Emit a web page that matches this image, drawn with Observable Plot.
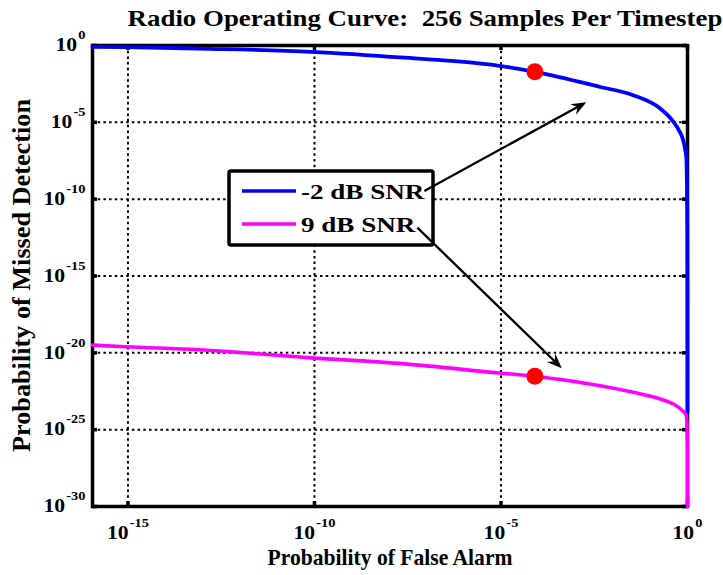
<!DOCTYPE html>
<html><head><meta charset="utf-8">
<script src="https://cdn.jsdelivr.net/npm/d3@7"></script>
<script src="https://cdn.jsdelivr.net/npm/@observablehq/plot@0.6"></script>
<style>body{margin:0;background:#fff} svg{display:block}</style>
</head><body><div id="chart"></div>
<script>
// ---- data ----
const titleText = "Radio Operating Curve:  256 Samples Per Timestep";
const xLabelText = "Probability of False Alarm";
const yLabelText = "Probability of Missed Detection";
const seriesNames = ["-2 dB SNR", "9 dB SNR"];
const seriesColors = ["#0000ff", "#ff00ff"];

const pfaLow = [1.12e-16, 8.7e-16, 7.9e-14, 8.3e-11, 2.6e-8, 8.9e-6, 8.1e-5, 4.6e-3, 3.5e-2, 0.186, 0.417, 0.60, 0.741, 0.87, 0.933, 0.99, 0.999, 0.99999];
const pmdLow = [0.82, 0.79, 0.63, 0.39, 0.16, 0.048, 0.0195, 2.0e-3, 5.8e-4, 7.9e-5, 1.1e-5, 2.8e-6, 8.9e-7, 1.6e-7, 4.4e-8, 1e-12, 1e-19, 1.3e-24];

const pfaHigh = [1.12e-16, 8.7e-16, 7.9e-14, 8.3e-11, 2.6e-8, 8.9e-6, 8.1e-5, 4.6e-3, 3.5e-2, 0.186, 0.417, 0.60, 0.741, 0.87, 0.933, 0.999, 0.99999];
const pmdHigh = [3.2e-20, 2.5e-20, 1.6e-20, 4.7e-21, 1.9e-21, 4.9e-22, 3.0e-22, 7.2e-23, 2.7e-23, 1.0e-23, 4.7e-24, 2.6e-24, 1.7e-24, 1.1e-24, 7.9e-25, 1e-26, 1e-30];

const markerX = [8.1e-5, 8.1e-5];
const markerY = [0.0195, 3.0e-22];

const arrowX1 = [9.1e-8, 5.9e-8];
const arrowY1 = [3.2e-10, 1.3e-12];
const arrowX2 = [2.0e-3, 4.4e-4];
const arrowY2 = [1.9e-4, 9.3e-22];

const xTicks = [1e-15, 1e-10, 1e-5, 1];
const yTicks = [1e-30, 1e-25, 1e-20, 1e-15, 1e-10, 1e-5, 1];
const xDomain = [1.12e-16, 1];
const yDomain = [1e-30, 1];

// ---- build tables ----
const lowData = pfaLow.map((x, i) => ({x, y: pmdLow[i], s: seriesNames[0]}));
const highData = pfaHigh.map((x, i) => ({x, y: pmdHigh[i], s: seriesNames[1]}));
const markers = markerX.map((x, i) => ({x, y: markerY[i]}));
const arrows = arrowX1.map((x1, i) => ({x1, y1: arrowY1[i], x2: arrowX2[i], y2: arrowY2[i]}));
const expFmt = d => "10|" + Math.round(Math.log10(d));

const W = 723, H = 575, ML = 92, MR = 36, MT = 45, MB = 69;
const PW = W - ML - MR, PH = H - MT - MB;
const SX = 1.2; // glyph width stretch of tick labels in the reference
const gridStyle = {stroke: "#000", strokeOpacity: 1, strokeWidth: 2, strokeDasharray: "2.5,3.2"};

const plot = Plot.plot({
  width: W, height: H,
  marginLeft: ML, marginRight: MR, marginTop: MT, marginBottom: MB,
  x: {type: "log", domain: xDomain},
  y: {type: "log", domain: yDomain},
  style: {fontFamily: "'Liberation Serif', 'Times New Roman', serif", fontWeight: "bold", color: "#000", background: "#fff", overflow: "visible"},
  marks: [
    Plot.gridX(xTicks, gridStyle),
    Plot.gridY(yTicks, gridStyle),
    Plot.frame({stroke: "#000", strokeWidth: 3.5}),
    Plot.tickX(xTicks, {x: d => d, stroke: "#000", strokeWidth: 3.5, insetTop: PH - 5}),
    Plot.tickX(xTicks, {x: d => d, stroke: "#000", strokeWidth: 3.5, insetBottom: PH - 5}),
    Plot.tickY(yTicks, {y: d => d, stroke: "#000", strokeWidth: 3.5, insetRight: PW - 5}),
    Plot.tickY(yTicks, {y: d => d, stroke: "#000", strokeWidth: 3.5, insetLeft: PW - 5}),
    Plot.axisX(xTicks, {anchor: "bottom", tickSize: 0, tickPadding: 20, tickFormat: expFmt, fontSize: 18, label: null}),
    Plot.axisY(yTicks, {anchor: "left", tickSize: 0, tickPadding: 7, tickFormat: expFmt, fontSize: 18, label: null}),
    Plot.line(lowData, {x: "x", y: "y", stroke: seriesColors[0], strokeWidth: 3.8, curve: "monotone-x"}),
    Plot.line(highData, {x: "x", y: "y", stroke: seriesColors[1], strokeWidth: 3.6, curve: "monotone-x"}),
    Plot.dot(markers, {x: "x", y: "y", r: 8.5, fill: "#ff0000", stroke: "none"})
  ]
});

document.getElementById("chart").appendChild(plot);
const svg = d3.select(plot);

// superscript tick labels
const tickLabels = svg.selectAll('g[aria-label="x-axis tick label"] text, g[aria-label="y-axis tick label"] text');
tickLabels.each(function () {
  const t = d3.select(this);
  const parts = t.text().split("|");
  t.text(parts[0]);
  t.append("tspan").attr("font-size", "12px").attr("dy", "-12").attr("dx", "1").text(parts[1]);
});
tickLabels.each(function () {
  const t = this.getAttribute("transform") || "";
  const xa = this.getAttribute("x");
  const x = xa && !isNaN(+xa) ? +xa : 0;
  if (xa && !isNaN(+xa)) this.removeAttribute("x");
  this.setAttribute("transform", `${t} translate(${x},0) scale(${SX},1)`);
});

function addText(str, x, y, size, rot, anchor, sx) {
  return svg.append("text")
    .attr("transform", `translate(${x},${y}) rotate(${rot}) scale(${sx},1)`)
    .attr("text-anchor", anchor)
    .attr("font-size", size + "px")
    .attr("font-weight", "bold")
    .attr("fill", "#000")
    .text(str);
}
addText(titleText, 425, 26, 24, 0, "middle", 1.12);
addText(xLabelText, 390, 565, 24, 0, "middle", 0.9);
addText(yLabelText, 30, (MT + H - MB) / 2, 25, -90, "middle", 1.05);

// legend
const lg = svg.append("g");
lg.append("rect").attr("x", 229).attr("y", 171).attr("width", 204).attr("height", 74).attr("rx", 2)
  .attr("fill", "#fff").attr("stroke", "#000").attr("stroke-width", 3.5);
seriesNames.forEach((name, i) => {
  const yy = 191 + i * 33;
  lg.append("line").attr("x1", 242).attr("x2", 296).attr("y1", yy).attr("y2", yy)
    .attr("stroke", seriesColors[i]).attr("stroke-width", 3.5);
  addText(name, 301, yy + 8, 21.5, 0, "start", 1.26);
});

// arrows (positions through Plot's scales)
const sx = plot.scale("x"), sy = plot.scale("y");
const ag = svg.append("g");
arrows.forEach(a => {
  const x1 = sx.apply(a.x1), y1 = sy.apply(a.y1), x2 = sx.apply(a.x2), y2 = sy.apply(a.y2);
  const dx = x2 - x1, dy = y2 - y1, len = Math.hypot(dx, dy);
  const ux = dx / len, uy = dy / len, nx = -uy, ny = ux;
  const L = 15, Wd = 6, N = 10;
  ag.append("line").attr("x1", x1).attr("y1", y1).attr("x2", x2 - ux * N).attr("y2", y2 - uy * N)
    .attr("stroke", "#000").attr("stroke-width", 2.3);
  const pts = [[x2, y2], [x2 - ux * L + nx * Wd, y2 - uy * L + ny * Wd], [x2 - ux * N, y2 - uy * N], [x2 - ux * L - nx * Wd, y2 - uy * L - ny * Wd]];
  ag.append("polygon").attr("points", pts.map(p => p.join(",")).join(" ")).attr("fill", "#000");
});
</script>
</body></html>
